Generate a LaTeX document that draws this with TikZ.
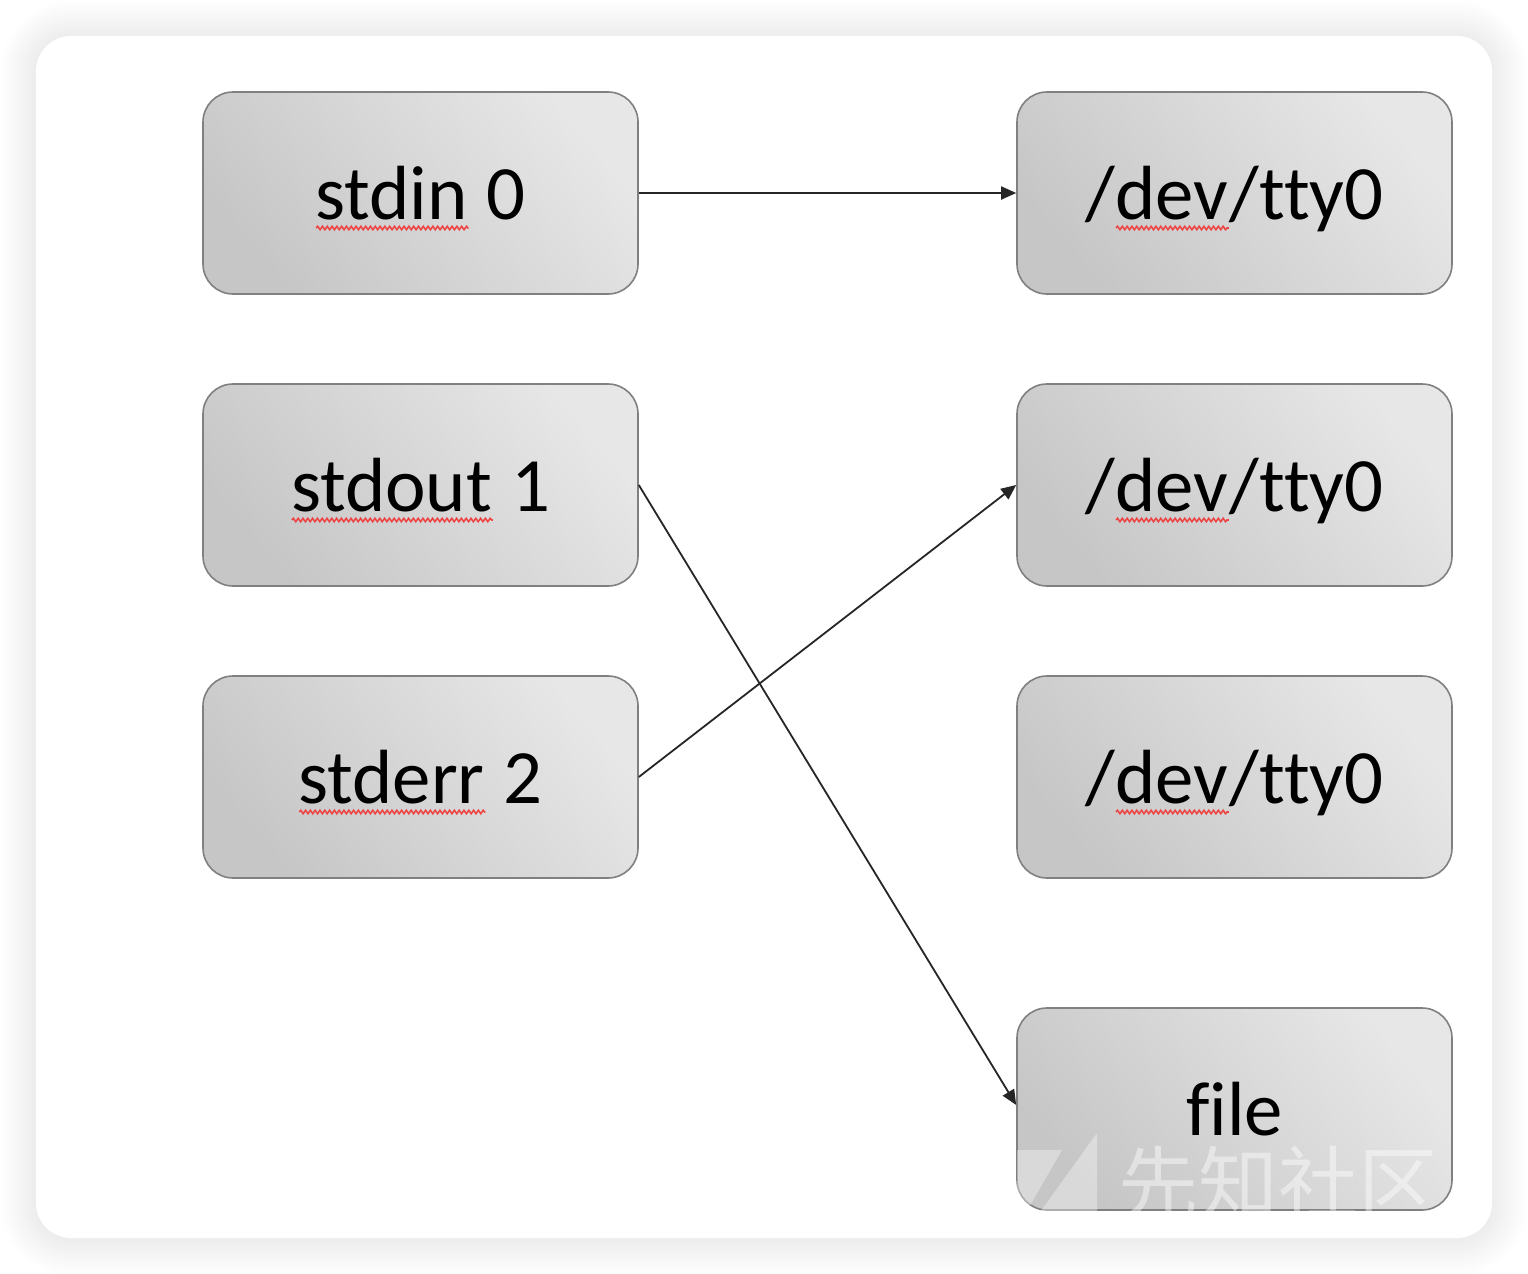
\documentclass[tikz,border=0pt]{standalone}
\usepackage{fontspec}
\setmainfont{Carlito}[Ligatures=NoCommon]
\newfontfamily\cjk{Noto Sans CJK SC}
\usetikzlibrary{arrows.meta,decorations.pathmorphing}
\definecolor{boxlight}{RGB}{231,231,231}
\definecolor{boxdark}{RGB}{198,198,198}
\definecolor{boxborder}{RGB}{128,128,128}
\definecolor{squig}{RGB}{238,70,70}
\newsavebox\sqbox
\newcommand\sqword[1]{\sbox\sqbox{#1}\rlap{\usebox\sqbox}\tikz[x=1pt,y=1pt,baseline=0pt,sharp corners]\draw[squig,sharp corners,line width=0.8pt,decorate,decoration={snake,amplitude=0.85pt,segment length=2.4pt}](0,-4.5)--(\wd\sqbox,-4.5pt);}
\tikzset{
  fdbox/.style={draw=boxborder, line width=0.8pt, rounded corners=15pt,
    top color=boxlight, bottom color=boxdark, shading angle=-50,
    minimum width=217.5pt, minimum height=101pt, inner sep=0pt,
    font=\fontsize{38.4}{46}\selectfont, text height=26pt, text depth=0pt},
  link/.style={line width=0.9pt, draw=black!85, -{Triangle[length=7.5pt,width=6.5pt]}}
}
\begin{document}
\begin{tikzpicture}[x=0.5pt,y=-0.5pt]
\useasboundingbox (0,0) rectangle (1528,1274);
% card shadow
\foreach \i in {1,...,18}{
  \pgfmathsetmacro\rr{17.5+\i}
  \fill[black, opacity=0.0055, rounded corners=\rr pt] (36-2*\i,36-2*\i+1) rectangle (1492+2*\i,1238+2*\i+1);
}
\fill[white, rounded corners=17.5pt] (36,36) rectangle (1492,1238);
% nodes
\node[fdbox] (in)  at (420.5,193) {\sqword{stdin} 0};
\node[fdbox] (out) at (420.5,485) {\sqword{stdout} 1};
\node[fdbox] (err) at (420.5,777) {\sqword{stderr} 2};
\node[fdbox] (t1) at (1234.5,193) {/\sqword{dev}/tty0};
\node[fdbox] (t2) at (1234.5,485) {/\sqword{dev}/tty0};
\node[fdbox] (t3) at (1234.5,777) {/\sqword{dev}/tty0};
\node[fdbox] (file) at (1234.5,1109) {file};
% connectors
\draw[link] (in.east) -- (t1.west);
\draw[link] (out.east) -- ([yshift=2pt]file.west);
\draw[link] (err.east) -- (t2.west);
% watermark
\fill[white, opacity=0.35] (1097,1133) -- (1097,1215) -- (1038,1215) -- cycle;
\fill[white, opacity=0.35] (1017,1150) -- (1062,1150) -- (1017,1228) -- cycle;
\node[text=white, opacity=0.45, font=\cjk\fontsize{40}{44}\selectfont, inner sep=0pt, text height=30pt, text depth=3pt] (wm) at (1278,1186) {先知社区};
\end{tikzpicture}
\end{document}
